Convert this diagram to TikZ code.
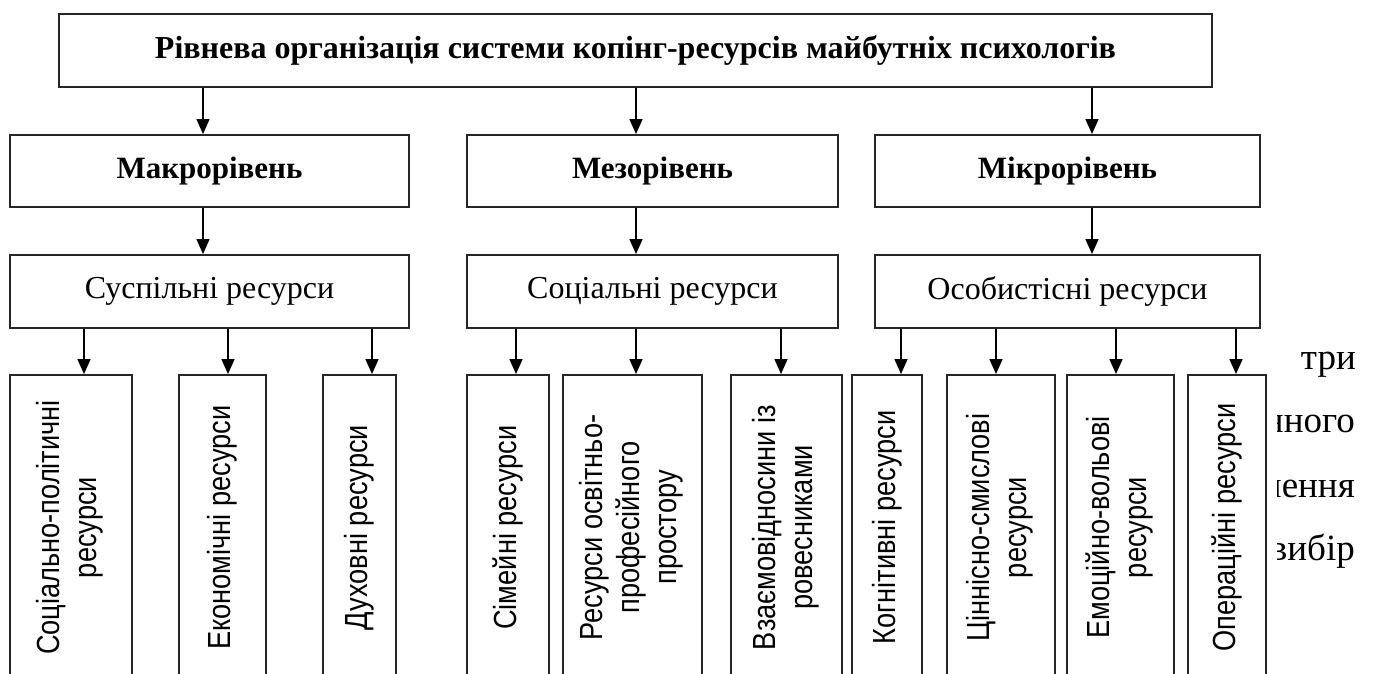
\documentclass[tikz,border=0pt]{standalone}
\usepackage{fontspec}
\setmainfont{Liberation Serif}
\newfontfamily\narrowsans[FakeStretch=0.85]{Liberation Sans}
\usetikzlibrary{arrows.meta}
\begin{document}
\begin{tikzpicture}[x=1pt,y=-1pt,
  box/.style={draw=black!85, line width=1.8pt, inner sep=0pt, align=center},
  toptext/.style={font=\fontsize{32}{37}\selectfont\bfseries},
  lvl/.style={box, minimum height=72pt, font=\fontsize{31}{36}\selectfont\bfseries},
  res/.style={box, minimum height=73pt, font=\fontsize{32}{38}\selectfont},
  col/.style={box, minimum height=305pt, font=\fontsize{32}{37}\selectfont\narrowsans},
  arr/.style={-{Triangle[width=13pt,length=15pt]}, line width=1.3pt, black},
  side/.style={font=\fontsize{37}{44}\selectfont, anchor=base east, inner sep=0pt}
]
\useasboundingbox[fill=white] (0,0) rectangle (1374,674);

% top
\node[box, minimum width=1153pt, minimum height=73pt, toptext] (top) at (635.5,50.5)
  {Рівнева організація системи копінг-ресурсів майбутніх психологів};

% levels
\node[lvl, minimum width=399pt] (makro) at (209.5,171) {Макрорівень};
\node[lvl, minimum width=371pt] (mezo) at (652.5,171) {Мезорівень};
\node[lvl, minimum width=385pt] (mikro) at (1067.5,171) {Мікрорівень};

% resources
\node[res, minimum width=399pt] (sus) at (209.5,291.5) {Суспільні ресурси};
\node[res, minimum width=371pt] (soc) at (652.5,291.5) {Соціальні ресурси};
\node[res, minimum width=385pt] (osob) at (1067.5,291.5) {Особистісні ресурси};

% columns
\node[col, minimum width=122pt] (c1) at (71,527.5)
  {\rotatebox{90}{\begin{tabular}{@{}c@{}}Соціально-політичні\\ресурси\end{tabular}}};
\node[col, minimum width=87pt] (c2) at (222.5,527.5)
  {\rotatebox{90}{Економічні ресурси}};
\node[col, minimum width=73pt] (c3) at (359.5,527.5)
  {\rotatebox{90}{Духовні ресурси}};
\node[col, minimum width=82pt] (c4) at (508,527.5)
  {\rotatebox{90}{Сімейні ресурси}};
\node[col, minimum width=139pt] (c5) at (632.5,527.5)
  {\rotatebox{90}{\begin{tabular}{@{}c@{}}Ресурси освітньо-\\професійного\\простору\end{tabular}}};
\node[col, minimum width=111pt] (c6) at (786.5,527.5)
  {\rotatebox{90}{\begin{tabular}{@{}c@{}}Взаємовідносини із\\ровесниками\end{tabular}}};
\node[col, minimum width=70pt] (c7) at (887,527.5)
  {\rotatebox{90}{Когнітивні ресурси}};
\node[col, minimum width=108pt] (c8) at (1001,527.5)
  {\rotatebox{90}{\begin{tabular}{@{}c@{}}Ціннісно-смислові\\ресурси\end{tabular}}};
\node[col, minimum width=107pt] (c9) at (1120.5,527.5)
  {\rotatebox{90}{\begin{tabular}{@{}c@{}}Емоційно-вольові\\ресурси\end{tabular}}};
\node[col, minimum width=78pt] (c10) at (1227,527.5)
  {\rotatebox{90}{Операційні ресурси}};

% arrow anchor points
\coordinate (pa) at ([xshift=-6.5pt]makro.north);
\coordinate (pb) at ([xshift=-16.5pt]mezo.north);
\coordinate (pc) at ([xshift=24.5pt]mikro.north);
\coordinate (qa) at ([xshift=-6.5pt]sus.north);
\coordinate (qb) at ([xshift=-16.5pt]soc.north);
\coordinate (qc) at ([xshift=24.5pt]osob.north);
\coordinate (k1) at ([xshift=13pt]c1.north);
\coordinate (k2) at ([xshift=5.5pt]c2.north);
\coordinate (k3) at ([xshift=12.5pt]c3.north);
\coordinate (k4) at ([xshift=8pt]c4.north);
\coordinate (k5) at ([xshift=3.5pt]c5.north);
\coordinate (k6) at ([xshift=-5.5pt]c6.north);
\coordinate (k7) at ([xshift=14pt]c7.north);
\coordinate (k8) at ([xshift=-5pt]c8.north);
\coordinate (k9) at ([xshift=-4.5pt]c9.north);
\coordinate (k10) at ([xshift=9pt]c10.north);

\draw[arr] (pa |- top.south) -- (pa);
\draw[arr] (pb |- top.south) -- (pb);
\draw[arr] (pc |- top.south) -- (pc);
\draw[arr] (qa |- makro.south) -- (qa);
\draw[arr] (qb |- mezo.south) -- (qb);
\draw[arr] (qc |- mikro.south) -- (qc);
\draw[arr] (k1 |- sus.south) -- (k1);
\draw[arr] (k2 |- sus.south) -- (k2);
\draw[arr] (k3 |- sus.south) -- (k3);
\draw[arr] (k4 |- soc.south) -- (k4);
\draw[arr] (k5 |- soc.south) -- (k5);
\draw[arr] (k6 |- soc.south) -- (k6);
\draw[arr] (k7 |- osob.south) -- (k7);
\draw[arr] (k8 |- osob.south) -- (k8);
\draw[arr] (k9 |- osob.south) -- (k9);
\draw[arr] (k10 |- osob.south) -- (k10);

% fragments of body text at the right
\begin{scope}
\clip (1277,330) rectangle (1374,674);
\node[side] (t1) at (1356,369) {три};
\node[side] (t2) at (1355,432) {нного};
\node[side] (t3) at (1355,497) {нення};
\node[side] (t4) at (1355,560) {вибір};
\end{scope}
\end{tikzpicture}
\end{document}
